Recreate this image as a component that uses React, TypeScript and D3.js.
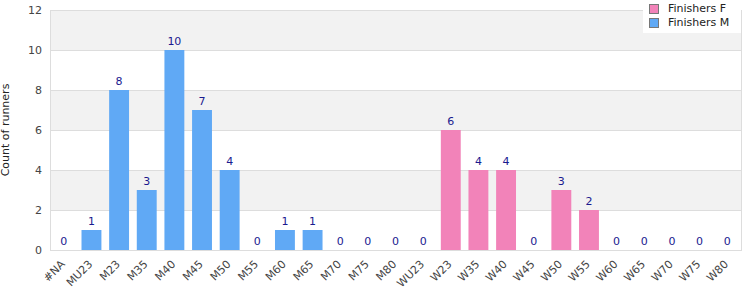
import * as d3 from 'd3'
import { useEffect, useRef } from 'react'

const WIDTH = 750
const HEIGHT = 300
const MARGIN = { top: 10, right: 9, bottom: 50, left: 50 }

const categories = [
  '#NA', 'MU23', 'M23', 'M35', 'M40', 'M45', 'M50', 'M55', 'M60', 'M65', 'M70', 'M75', 'M80',
  'WU23', 'W23', 'W35', 'W40', 'W45', 'W50', 'W55', 'W60', 'W65', 'W70', 'W75', 'W80',
]
const finishersM = [0, 1, 8, 3, 10, 7, 4, 0, 1, 1, 0, 0, 0, 0, null, null, null, null, null, null, null, null, null, null, null]
const finishersF = [null, null, null, null, null, null, null, null, null, null, null, null, null, null, 6, 4, 4, 0, 3, 2, 0, 0, 0, 0, 0]
const yTicks = [0, 2, 4, 6, 8, 10, 12]

const COLOR_M = '#60a9f5'
const COLOR_F = '#f283b9'
const FONT = 'DejaVu Sans, Verdana, sans-serif'

function drawChart(el: SVGSVGElement) {
  const svg = d3.select(el)
  svg.selectAll('*').remove()
  const x = d3
    .scaleBand<string>()
    .domain(categories)
    .range([MARGIN.left, WIDTH - MARGIN.right])
    .paddingInner(0.28)
    .paddingOuter(0.14)
  const y = d3.scaleLinear([0, 12], [HEIGHT - MARGIN.bottom, MARGIN.top])

  // alternating bands
  const bands = svg.append('g')
  for (let i = 0; i < yTicks.length - 1; i++) {
    bands
      .append('rect')
      .attr('x', MARGIN.left)
      .attr('width', WIDTH - MARGIN.right - MARGIN.left)
      .attr('y', y(yTicks[i + 1]))
      .attr('height', y(yTicks[i]) - y(yTicks[i + 1]))
      .attr('fill', i % 2 === 1 ? '#f2f2f2' : '#ffffff')
  }
  svg
    .append('g')
    .selectAll('line')
    .data(yTicks)
    .join('line')
    .attr('x1', MARGIN.left)
    .attr('x2', WIDTH - MARGIN.right)
    .attr('y1', (d) => y(d) + 0.5)
    .attr('y2', (d) => y(d) + 0.5)
    .attr('stroke', '#dddddd')
  svg
    .append('rect')
    .attr('x', MARGIN.left + 0.5)
    .attr('y', MARGIN.top + 0.5)
    .attr('width', WIDTH - MARGIN.right - MARGIN.left)
    .attr('height', HEIGHT - MARGIN.bottom - MARGIN.top)
    .attr('fill', 'none')
    .attr('stroke', '#dddddd')

  // y ticks
  svg
    .append('g')
    .selectAll('text')
    .data(yTicks)
    .join('text')
    .attr('x', MARGIN.left - 8)
    .attr('y', (d) => y(d) + 4)
    .attr('text-anchor', 'end')
    .attr('font-family', FONT)
    .attr('font-size', 11)
    .attr('fill', '#444')
    .text((d) => d)

  svg
    .append('text')
    .attr('transform', `translate(9,${(MARGIN.top + HEIGHT - MARGIN.bottom) / 2}) rotate(-90)`)
    .attr('text-anchor', 'middle')
    .attr('font-family', FONT)
    .attr('font-size', 11)
    .attr('fill', '#222')
    .text('Count of runners')

  const series = [
    { values: finishersM, color: COLOR_M },
    { values: finishersF, color: COLOR_F },
  ]
  series.forEach((s) => {
    const data = categories
      .map((c, i) => ({ c, v: s.values[i] }))
      .filter((d) => d.v !== null) as { c: string; v: number }[]
    const g = svg.append('g')
    g.selectAll('rect')
      .data(data)
      .join('rect')
      .attr('x', (d) => x(d.c)!)
      .attr('width', x.bandwidth())
      .attr('y', (d) => y(d.v))
      .attr('height', (d) => y(0) - y(d.v))
      .attr('fill', s.color)
    g.selectAll('text')
      .data(data)
      .join('text')
      .attr('x', (d) => x(d.c)! + x.bandwidth() / 2)
      .attr('y', (d) => y(d.v) - 5)
      .attr('text-anchor', 'middle')
      .attr('font-family', FONT)
      .attr('font-size', 11)
      .attr('fill', '#1a1a8f')
      .text((d) => d.v)
  })

  // x labels
  svg
    .append('g')
    .selectAll('text')
    .data(categories)
    .join('text')
    .attr(
      'transform',
      (d) => `translate(${x(d)! + x.bandwidth() / 2 - 1},${HEIGHT - MARGIN.bottom + 12}) rotate(-45)`,
    )
    .attr('text-anchor', 'end')
    .attr('dy', '0.35em')
    .attr('font-family', FONT)
    .attr('font-size', 11)
    .attr('fill', '#444')
    .text((d) => d)

  // legend
  const legend = svg.append('g').attr('transform', `translate(643,0)`)
  legend.append('rect').attr('width', 98).attr('height', 33).attr('fill', '#fff')
  ;[
    { label: 'Finishers F', color: COLOR_F },
    { label: 'Finishers M', color: COLOR_M },
  ].forEach((item, i) => {
    legend
      .append('rect')
      .attr('x', 6.5)
      .attr('y', 4.5 + i * 14)
      .attr('width', 9)
      .attr('height', 9)
      .attr('fill', item.color)
      .attr('stroke', '#777')
    legend
      .append('text')
      .attr('x', 25)
      .attr('y', 12 + i * 14)
      .attr('font-family', FONT)
      .attr('font-size', 11)
      .attr('fill', '#222')
      .text(item.label)
  })
}

export default function App() {
  const ref = useRef<SVGSVGElement>(null)
  useEffect(() => {
    if (ref.current) drawChart(ref.current)
  }, [])
  return (
    <svg
      ref={ref}
      width={WIDTH}
      height={HEIGHT}
      style={{ position: 'absolute', left: 0, top: 0, display: 'block' }}
    />
  )
}
